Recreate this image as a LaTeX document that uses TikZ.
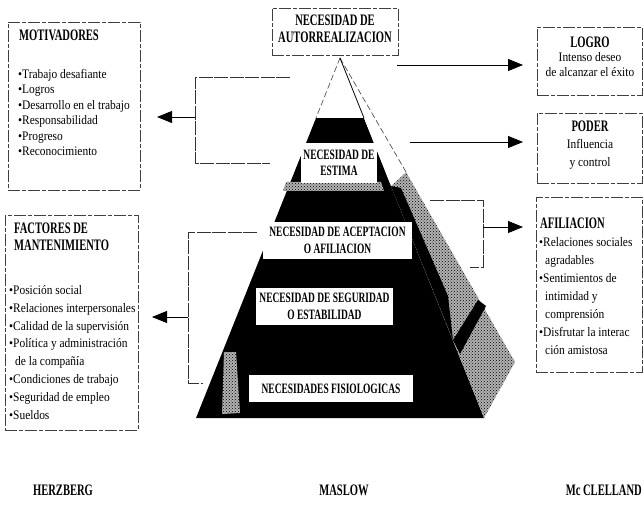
\documentclass[tikz,border=0pt]{standalone}
\usepackage{fontspec}
\setmainfont{Liberation Serif}
\newfontfamily\tfont[FakeStretch=0.66]{Liberation Serif Bold}
\newfontfamily\ifont[FakeStretch=0.88]{Liberation Serif}
\usetikzlibrary{arrows.meta,patterns}
\begin{document}
\begin{tikzpicture}[x=1pt,y=-1pt,
  frame/.style={draw=black!75, line width=0.6pt, dash pattern=on 12pt off 2pt on 4pt off 2pt},
  conn/.style={draw=black!80, line width=0.7pt, dash pattern=on 14pt off 1.5pt},
  arr/.style={draw=black, line width=0.8pt, -{Triangle[length=15pt,width=12pt]}},
  ttl/.style={font=\tfont\fontsize{16}{16.5}\selectfont, inner sep=0pt, align=left},
  ctitle/.style={font=\tfont\fontsize{16}{16.5}\selectfont, inner sep=0pt, align=center},
  plab/.style={fill=white, inner sep=0pt, font=\tfont\fontsize{14.3}{16.5}\selectfont, align=center},
  items/.style={font=\ifont\fontsize{13}{15.5}\selectfont, align=left, inner sep=0pt, anchor=north west},
  citems/.style={font=\ifont\fontsize{13}{15.5}\selectfont, align=center, inner sep=0pt},
  speck/.style={fill=gray!60, postaction={pattern=crosshatch dots, pattern color=black}},
]
\useasboundingbox (0,0) rectangle (644,518);
\clip (0,0) rectangle (644,518);
\fill[white] (0,0) rectangle (644,518);

% ---------- pyramid ----------
\coordinate (apex) at (340,58);
\coordinate (tl) at (316,118);
\coordinate (tr) at (364,118);
\coordinate (bl) at (196,418);
\coordinate (br) at (484,418);
\coordinate (back) at (515,362);
\coordinate (fr1) at (391,186);
\coordinate (out1) at (406,172);
% front face
\fill[black] (tl) -- (tr) -- (br) -- (bl) -- cycle;
% right face (speckled)
\path[speck] (fr1) -- (out1) -- (back) -- (br) -- cycle;
% black parts of the right face
\fill[black] (fr1) -- (401,188) -- (448,296) -- (453,340) -- cycle;
\fill[black] (453,340) -- (478,300) -- (486,306) -- (460,354) -- cycle;
% white top
\fill[white] (apex) -- (tl) -- (tr) -- cycle;
\fill[white] (apex) -- (tr) -- (fr1) -- (out1) -- cycle;
\draw[black!75, line width=0.6pt, dash pattern=on 6pt off 3pt] (apex) -- (tl);
\draw[black!75, line width=0.6pt, dash pattern=on 6pt off 3pt] (apex) -- (out1);
\draw[black, line width=0.8pt] (apex) -- (tr);
% speckled strips
\path[speck] (286,182) -- (381,182) -- (384,191) -- (283,191) -- cycle;
\path[speck] (224,352) -- (236,352) -- (240,413) -- (222,414) -- cycle;

% pyramid labels
\node[plab, minimum width=76pt, minimum height=40pt] (estima) at (339,163) {NECESIDAD DE\\ESTIMA};
\node[plab, minimum width=149pt, minimum height=37pt] (acept) at (337.5,240.5) {NECESIDAD DE ACEPTACION\\O AFILIACION};
\node[plab, minimum width=137pt, minimum height=37pt] (segur) at (324.5,306.5) {NECESIDAD DE SEGURIDAD\\O ESTABILIDAD};
\node[plab, minimum width=164pt, minimum height=27pt] (fisio) at (331,388.5) {NECESIDADES FISIOLOGICAS};

% top box
\node[frame, minimum width=126pt, minimum height=47pt] (autobox) at (335,31.5) {};
\node[ctitle] (auto) at (335,29) {NECESIDAD DE\\AUTORREALIZACION};

% ---------- Herzberg boxes ----------
\node[frame, minimum width=132pt, minimum height=168pt] (motbox) at (74,106) {};
\node[ttl, anchor=west] (mottitle) at (19,35) {MOTIVADORES};
\node[items] (motitems) at (18,69) {•Trabajo desafiante\\•Logros\\•Desarrollo en el trabajo\\•Responsabilidad\\•Progreso\\•Reconocimiento};

\node[frame, minimum width=133pt, minimum height=215pt] (facbox) at (71.5,322.5) {};
\node[ttl, anchor=north west] (factitle) at (14,223) {FACTORES DE\\MANTENIMIENTO};
\node[items, font=\ifont\fontsize{13}{17.9}\selectfont] (facitems) at (9,285) {•Posición social\\•Relaciones interpersonales\\•Calidad de la supervisión\\•Política y administración\\\hspace*{6pt}de la compañía\\•Condiciones de trabajo\\•Seguridad de empleo\\•Sueldos};

% ---------- McClelland boxes ----------
\node[frame, minimum width=105pt, minimum height=68pt] (logbox) at (589.5,61) {};
\node[ctitle] (logtitle) at (590,42) {LOGRO};
\node[citems] (logtext) at (590,64.5) {Intenso deseo\\de alcanzar el éxito};

\node[frame, minimum width=105pt, minimum height=70pt] (podbox) at (589.5,148) {};
\node[ctitle] (podtitle) at (590,126) {PODER};
\node[citems, font=\ifont\fontsize{13}{18}\selectfont] (podtext) at (590,154) {Influencia\\y control};

\node[frame, minimum width=106pt, minimum height=175pt] (afibox) at (589,284.5) {};
\node[ttl, anchor=west] (afititle) at (540,223) {AFILIACION};
\node[items, font=\ifont\fontsize{13}{18.1}\selectfont] (afiitems) at (539,237) {•Relaciones sociales\\\hspace*{6pt}agradables\\•Sentimientos de\\\hspace*{6pt}intimidad y\\\hspace*{6pt}comprensión\\•Disfrutar la interac\\\hspace*{6pt}ción amistosa};

% ---------- connectors ----------
% upper left bracket
\coordinate (l1a) at (290,77);
\coordinate (l1b) at (195,77);
\coordinate (l1c) at (195,163);
\coordinate (l1d) at (270,163);
\coordinate (l1m) at (195,117);
\coordinate (l1t) at (157,117);
\draw[conn] (l1a) -- (l1b) -- (l1c) -- (l1d);
\draw[arr] (l1m) -- (l1t);
% lower left bracket
\coordinate (l2a) at (257,232);
\coordinate (l2b) at (188,232);
\coordinate (l2c) at (188,383);
\coordinate (l2d) at (203,383);
\coordinate (l2m) at (188,317);
\coordinate (l2t) at (152,317);
\draw[conn] (l2a) -- (l2b) -- (l2c) -- (l2d);
\draw[arr] (l2m) -- (l2t);
% right arrows
\coordinate (r1s) at (397,65);
\coordinate (r1t) at (523,65);
\draw[arr] (r1s) -- (r1t);
\coordinate (r2s) at (410,142);
\coordinate (r2t) at (523,142);
\draw[arr] (r2s) -- (r2t);
% right bracket
\coordinate (r3a) at (430,200);
\coordinate (r3b) at (483,200);
\coordinate (r3c) at (483,267);
\coordinate (r3d) at (470,267);
\coordinate (r3m) at (483,227);
\coordinate (r3t) at (523,227);
\draw[conn] (r3a) -- (r3b) -- (r3c) -- (r3d);
\draw[arr] (r3m) -- (r3t);

% ---------- bottom labels ----------
\node[ttl] (herz) at (63,490) {HERZBERG};
\node[ttl] (maslow) at (344,490) {MASLOW};
\node[ttl, anchor=east] (mccl) at (642,490) {Mc CLELLAND};
\end{tikzpicture}
\end{document}
